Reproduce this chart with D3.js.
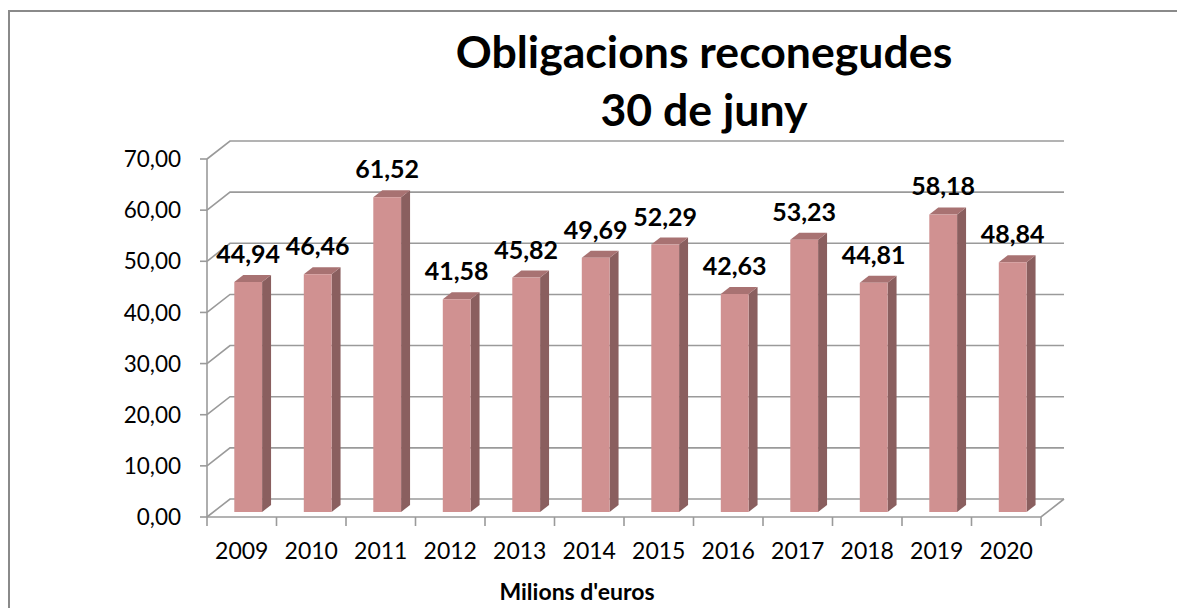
<!DOCTYPE html>
<html>
<head>
<meta charset="utf-8">
<script src="https://cdn.jsdelivr.net/npm/d3@7"></script>
<style>
  body { margin: 0; background: #fff; }
  svg text { font-family: Lato, "Open Sans", sans-serif; fill: #000; }
  .title { font-size: 44.6px; font-weight: bold; text-anchor: middle; }
  .ytick { font-size: 22.5px; text-anchor: end; }
  .xtick { font-size: 23px; text-anchor: middle; }
  .value { font-size: 25px; font-weight: bold; text-anchor: middle; }
  .xtitle { font-size: 23px; font-weight: bold; text-anchor: middle; }
  .grid { stroke: #9a9a9a; stroke-width: 1.6; fill: none; }
</style>
</head>
<body>
<script>
const years = ['2009', '2010', '2011', '2012', '2013', '2014', '2015', '2016', '2017', '2018', '2019', '2020'];
const values = [44.94, 46.46, 61.52, 41.58, 45.82, 49.69, 52.29, 42.63, 53.23, 44.81, 58.18, 48.84];
const yTicks = [0, 10, 20, 30, 40, 50, 60, 70];
const titleLines = ['Obligacions reconegudes', '30 de juny'];

const width = 1177, height = 608;
const fmt = v => d3.format('.2f')(v).replace('.', ',');

// 3d depth offset of the back wall
const dx = 23, dy = -18;
const front = 0.28, back = 0.67;

const svg = d3.select('body')
  .append('svg')
  .attr('width', width)
  .attr('height', height);

const x = d3.scaleBand().domain(years).range([207, 1041]);
const y = d3.scaleLinear().domain([0, 70]).range([517, 159]);

const P = (px, v, d) => [px + d * dx, y(v) + d * dy];

// chart border
svg.append('path')
  .attr('d', `M9,${height} V11 H${width}`)
  .attr('fill', 'none')
  .attr('stroke', '#8a8a8a')
  .attr('stroke-width', 2);

// back wall gridlines + side wall diagonals
const grid = svg.append('g');
yTicks.forEach(t => {
  const a = P(207, t, 0), b = P(207, t, 1), c = P(1041, t, 1);
  grid.append('path').attr('class', 'grid')
    .attr('d', `M${a}L${b}L${c}`);
});
// floor front + right edge
grid.append('path').attr('class', 'grid')
  .attr('d', `M${P(207, 0, 0)}L${P(1041, 0, 0)}L${P(1041, 0, 1)}`);
// front vertical axis
grid.append('path').attr('class', 'grid')
  .attr('d', `M207,${y(70)}V${y(0) + 9}`);

// y ticks
yTicks.forEach(t => {
  grid.append('path').attr('class', 'grid')
    .attr('d', `M200,${y(t)}H207`);
  svg.append('text').attr('class', 'ytick')
    .attr('x', 181).attr('y', y(t)).attr('dy', '0.36em')
    .text(fmt(t));
});

// x ticks
years.forEach((yr, i) => {
  const px = x(yr) + x.bandwidth();
  grid.append('path').attr('class', 'grid')
    .attr('d', `M${px},${y(0)}V${y(0) + 9}`);
  svg.append('text').attr('class', 'xtick')
    .attr('x', x(yr) + x.bandwidth() / 2).attr('y', 559)
    .text(yr);
});

// bars
const barW = x.bandwidth() * 0.4;
const bars = svg.selectAll('.bar')
  .data(years.map((yr, i) => ({ yr, v: values[i] })))
  .enter()
  .append('g')
  .attr('class', 'bar');

bars.each(function(d) {
  const g = d3.select(this);
  const x0 = x(d.yr) + (x.bandwidth() - barW) / 2, x1 = x0 + barW;
  const poly = pts => 'M' + pts.join('L') + 'Z';
  g.append('path')
    .attr('fill', '#8a5f5f')
    .attr('d', poly([P(x1, 0, front), P(x1, 0, back), P(x1, d.v, back), P(x1, d.v, front)]));
  g.append('path')
    .attr('fill', '#a87272')
    .attr('d', poly([P(x0, d.v, front), P(x1, d.v, front), P(x1, d.v, back), P(x0, d.v, back)]));
  g.append('path')
    .attr('fill', '#d09191')
    .attr('d', poly([P(x0, 0, front), P(x1, 0, front), P(x1, d.v, front), P(x0, d.v, front)]));
  const top = P(x0, d.v, back);
  g.append('text').attr('class', 'value')
    .attr('x', (P(x0, 0, front)[0] + P(x1, 0, front)[0]) / 2)
    .attr('y', top[1] - 12)
    .text(fmt(d.v));
});

// titles
titleLines.forEach((t, i) => {
  svg.append('text').attr('class', 'title')
    .attr('x', 704).attr('y', 68 + i * 58)
    .text(t);
});

svg.append('text').attr('class', 'xtitle')
  .attr('x', 577).attr('y', 600)
  .text("Milions d'euros");
</script>
</body>
</html>
